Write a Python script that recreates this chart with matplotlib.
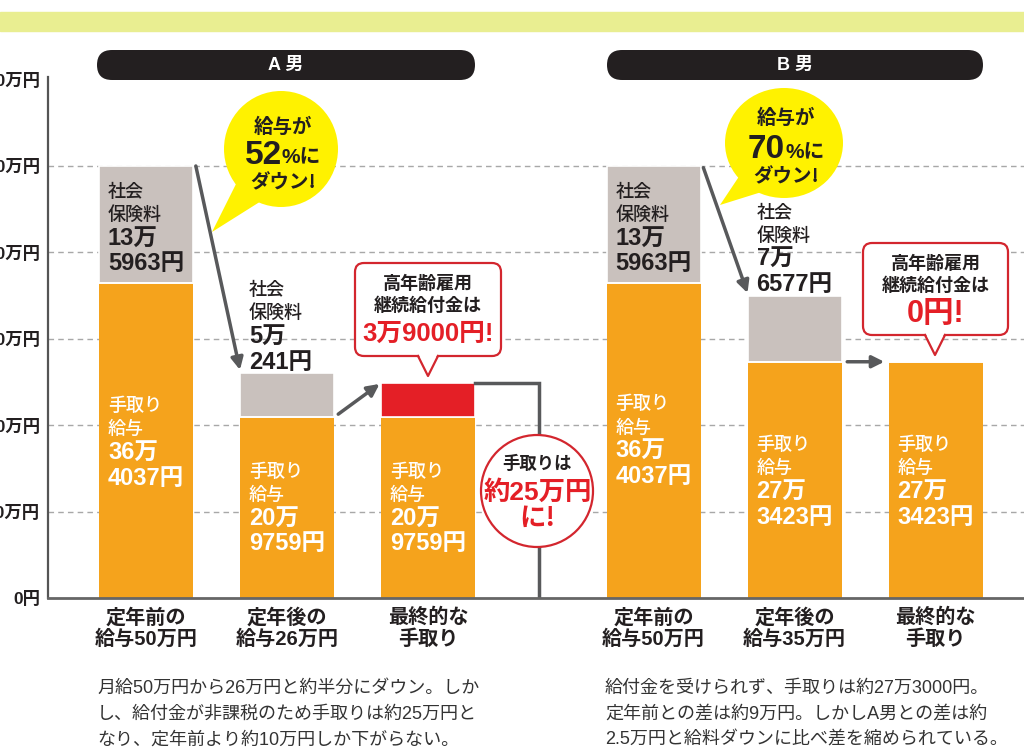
import matplotlib
matplotlib.use("Agg")
import matplotlib.pyplot as plt
import numpy as np
from matplotlib import font_manager as fm
from matplotlib.patches import FancyBboxPatch, Rectangle, Ellipse, Polygon, Circle
from matplotlib.lines import Line2D

# data (万円)
labels_A = ["定年前の\n給与50万円", "定年後の\n給与26万円", "最終的な\n手取り"]
takehome_A = [36.4037, 20.9759, 20.9759]
insurance_A = [13.5963, 5.0241, 0]
benefit_A = [0, 0, 3.9]

labels_B = ["定年前の\n給与50万円", "定年後の\n給与35万円", "最終的な\n手取り"]
takehome_B = [36.4037, 27.3423, 27.3423]
insurance_B = [13.5963, 7.6577, 0]
benefit_B = [0, 0, 0]

y_ticks = [0, 10, 20, 30, 40, 50, 60]
y_labels = ["0円", "10万円", "20万円", "30万円", "40万円", "50万円", "60万円"]
grid_vals = [10, 20, 30, 40, 50]

caption_A = ["月給50万円から26万円と約半分にダウン。しか",
             "し、給付金が非課税のため手取りは約25万円と",
             "なり、定年前より約10万円しか下がらない。"]
caption_B = ["給付金を受けられず、手取りは約27万3000円。",
             "定年前との差は約9万円。しかしA男との差は約",
             "2.5万円と給料ダウンに比べ差を縮められている。"]

ORANGE = "#f5a31c"
GRAY = "#c9c1bd"
RED = "#e41f26"
BORDER = "#d3262e"
YELLOW = "#fff200"
DARK = "#231f20"
ARROW = "#58595b"

installed = {f.name for f in fm.fontManager.ttflist}
JP = "Noto Sans CJK JP"
NUM = [n for n in ["Liberation Sans Narrow", "Liberation Sans"] if n in installed][:1] + [JP]
plt.rcParams["font.family"] = [JP, "DejaVu Sans"]

fig = plt.figure(figsize=(10.24, 7.55), dpi=100)
T = fig.dpi_scale_trans


def P(x, y):
    # image pixel -> inches for overlay decorations
    return (x / 100, (755 - y) / 100)


ax = fig.add_axes([48 / 1024, 1 - 598 / 755, (1030 - 48) / 1024, (598 - 77) / 755])
w = 0.667
pos_A = np.arange(3)
pos_B = np.arange(3) + 3.6
ax.set_xlim(-0.695, 6.27)
ax.set_ylim(0, 60.3)

for v in grid_vals:
    ax.axhline(v, color="#a8a8a8", lw=1, ls=(0, (4, 3)), zorder=1)

for pos, th, ins, ben in [(pos_A, takehome_A, insurance_A, benefit_A),
                          (pos_B, takehome_B, insurance_B, benefit_B)]:
    ax.bar(pos, th, w, color=ORANGE, zorder=2)
    ax.bar(pos, ins, w, bottom=th, color=GRAY, edgecolor="white", lw=1.2, zorder=2)
    ax.bar(pos, ben, w, bottom=th, color=RED, edgecolor="white", lw=1.2, zorder=2)

ax.set_yticks(y_ticks, y_labels, fontsize=12.5, fontweight="bold", family=NUM, color=DARK)
ax.set_xticks(np.concatenate([pos_A, pos_B]), labels_A + labels_B,
              fontsize=14.5, fontweight="bold", family=NUM, color=DARK, linespacing=1.12)
ax.tick_params(axis="y", length=0, pad=5.5)
ax.tick_params(axis="x", length=0, pad=7)
for s in ["top", "right"]:
    ax.spines[s].set_visible(False)
ax.spines["left"].set_color("#555555")
ax.spines["left"].set_linewidth(1.6)
ax.spines["bottom"].set_color("#666666")
ax.spines["bottom"].set_linewidth(2)
ax.spines["bottom"].set_zorder(3)


def yen(v):
    man = int(v)
    rest = int(round((v - man) * 10000))
    return f"{man}万", f"{rest}円"


def block(x, y, head, value, color):
    big = yen(value)
    rows = [(head[0], False), (head[1], False), (big[0], True), (big[1], True)]
    offs = [0, 23, 47, 72]
    for (txt, is_big), off in zip(rows, offs):
        ax.annotate(txt, xy=(x, y), xytext=(0, -off * 0.72), textcoords="offset points",
                    ha="left", va="center", color=color, zorder=5,
                    fontsize=17 if is_big else 13,
                    fontweight="bold" if is_big else "medium",
                    family=NUM if is_big else [JP])


dx = -w / 2 + 0.064
ins_head = ("社会", "保険料")
th_head = ("手取り", "給与")
# A
block(pos_A[0] + dx, 47.0, ins_head, insurance_A[0], DARK)
block(pos_A[0] + dx, 22.2, th_head, takehome_A[0], "white")
block(pos_A[1] + dx, 35.6, ins_head, insurance_A[1], DARK)
block(pos_A[1] + dx, 14.6, th_head, takehome_A[1], "white")
block(pos_A[2] + dx, 14.6, th_head, takehome_A[2], "white")
# B
block(pos_B[0] + dx, 47.0, ins_head, insurance_B[0], DARK)
block(pos_B[0] + dx, 22.4, th_head, takehome_B[0], "white")
block(pos_B[1] + dx, 44.6, ins_head, insurance_B[1], DARK)
block(pos_B[1] + dx, 17.7, th_head, takehome_B[1], "white")
block(pos_B[2] + dx, 17.7, th_head, takehome_B[2], "white")

# arrows between bars
arr = dict(arrowstyle="-|>", color=ARROW, lw=2.5, mutation_scale=18, shrinkA=0, shrinkB=0)
totA = [t + i + b for t, i, b in zip(takehome_A, insurance_A, benefit_A)]
totB = [t + i + b for t, i, b in zip(takehome_B, insurance_B, benefit_B)]
ax.annotate("", xy=(pos_A[1] - w / 2, totA[1] + 0.4), xytext=(pos_A[0] + w / 2 + 0.02, totA[0]),
            arrowprops=arr, zorder=4)
ax.annotate("", xy=(pos_A[2] - w / 2 - 0.01, totA[2] - 0.1), xytext=(pos_A[1] + w / 2 + 0.03, takehome_A[1] + 0.3),
            arrowprops=arr, zorder=4)
ax.annotate("", xy=(pos_B[1] - w / 2, totB[1] + 0.3), xytext=(pos_B[0] + w / 2 + 0.02, totB[0] - 0.2),
            arrowprops=arr, zorder=4)
ax.annotate("", xy=(pos_B[2] - w / 2 - 0.03, takehome_B[1]), xytext=(pos_B[1] + w / 2 + 0.04, takehome_B[1]),
            arrowprops=arr, zorder=4)

# bracket for final take-home of A
bx = pos_A[2] + 0.79
ax.plot([pos_A[2] + w / 2, bx, bx], [totA[2], totA[2], 0], color=ARROW, lw=2.5,
        solid_joinstyle="miter", zorder=3)

# ---- decorations (figure pixel layout) ----
fig.patches.append(Rectangle(P(0, 31), 10.24, 0.19, transform=T, color="#e9ee91", zorder=0))

for x0, x1, name in [(97, 475, "A 男"), (607, 983, "B 男")]:
    fig.patches.append(FancyBboxPatch(P(x0, 80), (x1 - x0) / 100, 0.30,
                                      boxstyle="round,pad=0,rounding_size=0.15",
                                      transform=T, fc=DARK, ec="none"))
    fig.text(*P((x0 + x1) / 2, 65), name, transform=T, ha="center", va="center",
             color="white", fontsize=13, fontweight="bold", family=NUM)


def bubble(cx, cy, rx, ry, tail, l1, num, l3, yl):
    fig.patches.append(Polygon([P(*p) for p in tail], closed=True, transform=T, fc=YELLOW, ec="none"))
    fig.patches.append(Ellipse(P(cx, cy), rx * 2 / 100, ry * 2 / 100, transform=T, fc=YELLOW, ec="none"))
    fig.text(*P(cx + 2, yl[0]), l1, transform=T, ha="center", va="center",
             fontsize=14, fontweight="bold", color=DARK)
    fig.text(*P(cx + 1, yl[1]), num, transform=T, ha="right", va="center",
             fontsize=24, fontweight="bold", color=DARK, family=NUM)
    fig.text(*P(cx + 1, yl[1] + 3), "%に", transform=T, ha="left", va="center",
             fontsize=15, fontweight="bold", color=DARK, family=NUM)
    fig.text(*P(cx + 2, yl[2]), l3, transform=T, ha="center", va="center",
             fontsize=14, fontweight="bold", color=DARK)


bubble(281, 149, 57, 58, [(238, 180), (212, 232), (266, 198)], "給与が", "52", "ダウン!", (127, 155, 183))
bubble(784, 143, 59, 55, [(742, 172), (720, 205), (768, 190)], "給与が", "70", "ダウン!", (118, 150, 177))


def callout(x0, x1, y0, y1, tipx, tipy, big, bigsize):
    fig.patches.append(FancyBboxPatch(P(x0, y1), (x1 - x0) / 100, (y1 - y0) / 100,
                                      boxstyle="round,pad=0,rounding_size=0.09",
                                      transform=T, fc="white", ec=BORDER, lw=1.6, zorder=6))
    tri = [P(tipx - 10, y1 - 3), P(tipx, tipy), P(tipx + 10, y1 - 3)]
    fig.patches.append(Polygon(tri, closed=True, transform=T, fc="white", ec="none", zorder=7))
    fig.lines.append(Line2D([P(tipx - 10, y1)[0], P(tipx, tipy)[0], P(tipx + 10, y1)[0]],
                            [P(0, y1)[1], P(0, tipy)[1], P(0, y1)[1]],
                            transform=T, color=BORDER, lw=1.6, zorder=8))
    cx = (x0 + x1) / 2
    fig.text(*P(cx, y0 + 20), "高年齢雇用", transform=T, ha="center", va="center",
             fontsize=13, fontweight="bold", color=DARK, zorder=9)
    fig.text(*P(cx, y0 + 42), "継続給付金は", transform=T, ha="center", va="center",
             fontsize=13, fontweight="bold", color=DARK, zorder=9)
    fig.text(*P(cx, y0 + 71), big, transform=T, ha="center", va="center",
             fontsize=bigsize, fontweight="bold", color=RED, family=NUM, zorder=9)


callout(355, 501, 263, 356, 428, 376, "3万9000円!", 18.5)
callout(863, 1008, 243, 335, 935, 355, "0円!", 22)

# take-home circle
fig.patches.append(Circle(P(537, 491), 0.56, transform=T, fc="white", ec=BORDER, lw=1.6, zorder=6))
fig.text(*P(537, 464), "手取りは", transform=T, ha="center", va="center",
         fontsize=12.5, fontweight="bold", color=DARK, zorder=9)
fig.text(*P(538, 492), "約25万円", transform=T, ha="center", va="center",
         fontsize=19, fontweight="bold", color=RED, family=NUM, zorder=9)
fig.text(*P(537, 518), "に!", transform=T, ha="center", va="center",
         fontsize=19, fontweight="bold", color=RED, zorder=9)

# captions
for x0, lines in [(97, caption_A), (605, caption_B)]:
    for i, line in enumerate(lines):
        fig.text(*P(x0, 688 + 26 * i), line, transform=T, ha="left", va="center",
                 fontsize=13, color="#333333", family=NUM)

fig.savefig("out.png", dpi=100)
